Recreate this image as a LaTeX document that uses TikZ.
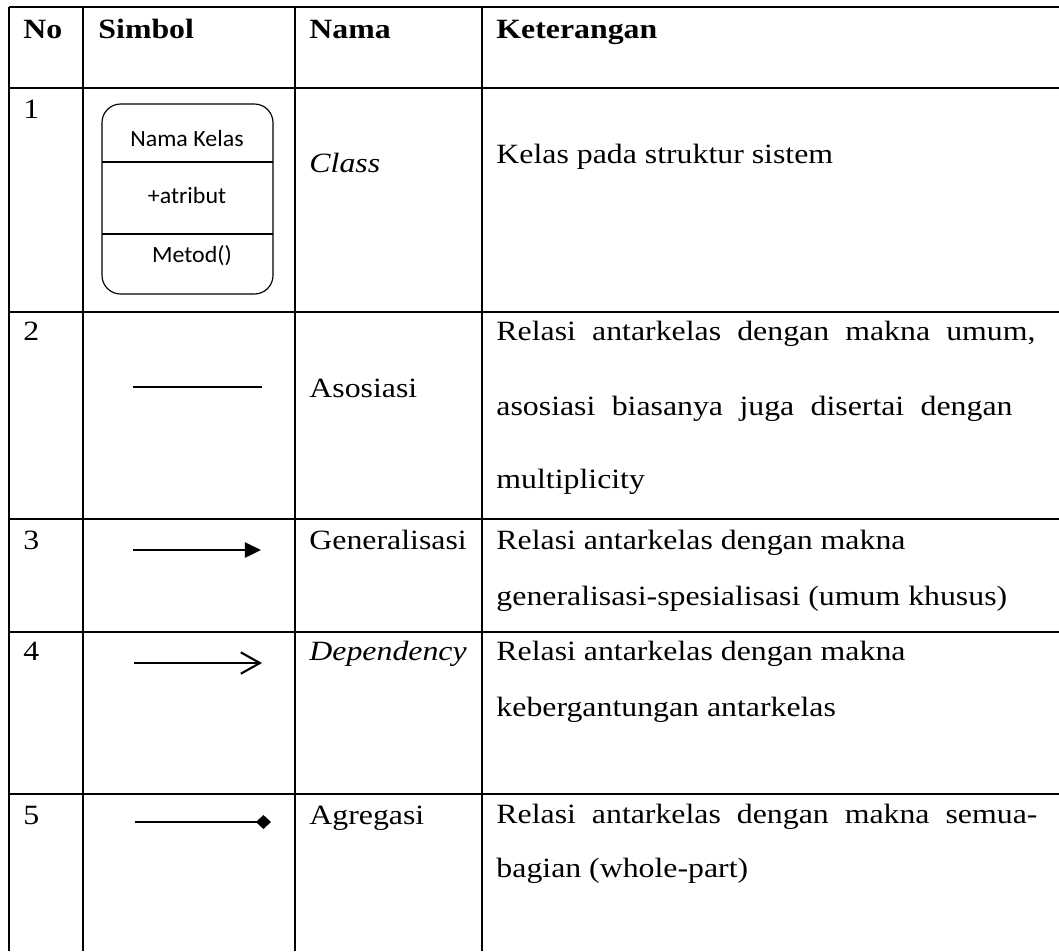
\documentclass[tikz,border=0pt]{standalone}
\usepackage{fontspec}
\setmainfont{Liberation Serif}[FakeStretch=1.14]
\newfontfamily\boxfont{Carlito}[FakeStretch=1.03]
\usetikzlibrary{arrows.meta}
\newcommand{\jline}[2]{\makebox[#1][s]{#2}}

\begin{document}
\begin{tikzpicture}[x=0.43pt, y=-0.43pt,
    grid/.style={line width=1pt},
    cell/.style={anchor=base west, inner sep=0pt, font=\fontsize{12}{14}\selectfont},
    head/.style={cell, font=\fontsize{12}{14}\selectfont\bfseries},
    ital/.style={cell, font=\fontsize{12}{14}\selectfont\itshape},
    uml/.style={anchor=base, inner sep=0pt, font=\boxfont\fontsize{10}{12}\selectfont},
    rel/.style={line width=0.9pt}]
  \useasboundingbox (0,0) rectangle (1059,951);
  % table lines
  \foreach \y in {7,88,312,519,632,794} \draw[grid] (9,\y) -- (1059,\y);
  \foreach \x in {9,83,295,482} \draw[grid] (\x,7) -- (\x,951);
  % header
  \node[head] (hno)   at (23,38)  {No};
  \node[head] (hsim)  at (98,38)  {Simbol};
  \node[head] (hnama) at (309,38) {Nama};
  \node[head] (hket)  at (496,38) {Keterangan};
  % 1 class
  \node[cell] (n1) at (23,118) {1};
  \draw[line width=0.5pt, rounded corners=8pt] (102,104) rectangle (273,294);
  \draw[line width=0.5pt] (102,162) -- (273,162) (102,234) -- (273,234);
  \node[uml] (kls) at (187,146) {Nama Kelas};
  \node[uml] (atr) at (187,203) {+atribut};
  \node[uml] (mtd) at (192,262) {Metod()};
  \node[ital] (nclass) at (309,172) {Class};
  \node[cell] (kclass) at (496,163) {Kelas pada struktur sistem};
  % 2 asosiasi
  \node[cell] (n2) at (23,340) {2};
  \coordinate (as1) at (133,387); \coordinate (as2) at (262,387);
  \draw[line width=0.5pt] (as1) -- (as2);
  \node[cell] (nasos) at (309,397) {Asosiasi};
  \node[cell] (kasos1) at (496,340) {\jline{231.8pt}{Relasi antarkelas dengan makna umum,}};
  \node[cell] (kasos2) at (496,415) {\jline{221.9pt}{asosiasi biasanya juga disertai dengan}};
  \node[cell] (kasos3) at (496,488) {multiplicity};
  % 3 generalisasi
  \node[cell] (n3) at (23,549) {3};
  \coordinate (ge1) at (133,550); \coordinate (ge2) at (261,550);
  \draw[rel, -{Triangle[length=6.9pt, width=6.5pt]}] (ge1) -- (ge2);
  \node[cell] (ngen) at (309,549) {Generalisasi};
  \node[cell] (kgen1) at (496,549) {Relasi antarkelas dengan makna};
  \node[cell] (kgen2) at (496,605) {generalisasi-spesialisasi (umum khusus)};
  % 4 dependency
  \node[cell] (n4) at (23,660) {4};
  \coordinate (de1) at (134,663); \coordinate (de2) at (262,663);
  \draw[rel, -{Straight Barb[length=8.2pt, width=9.2pt]}] (de1) -- (de2);
  \node[ital] (ndep) at (309,660) {Dependency};
  \node[cell] (kdep1) at (496,660) {Relasi antarkelas dengan makna};
  \node[cell] (kdep2) at (496,716) {kebergantungan antarkelas};
  % 5 agregasi
  \node[cell] (n5) at (23,824) {5};
  \coordinate (ag1) at (135,822); \coordinate (ag2) at (271,822);
  \draw[rel, -{Diamond[length=6.5pt, width=6pt]}] (ag1) -- (ag2);
  \node[cell] (nagr) at (309,824) {Agregasi};
  \node[cell] (kagr1) at (496,823) {\jline{232.6pt}{Relasi antarkelas dengan makna semua-}};
  \node[cell] (kagr2) at (496,877) {bagian (whole-part)};
\end{tikzpicture}
\end{document}
